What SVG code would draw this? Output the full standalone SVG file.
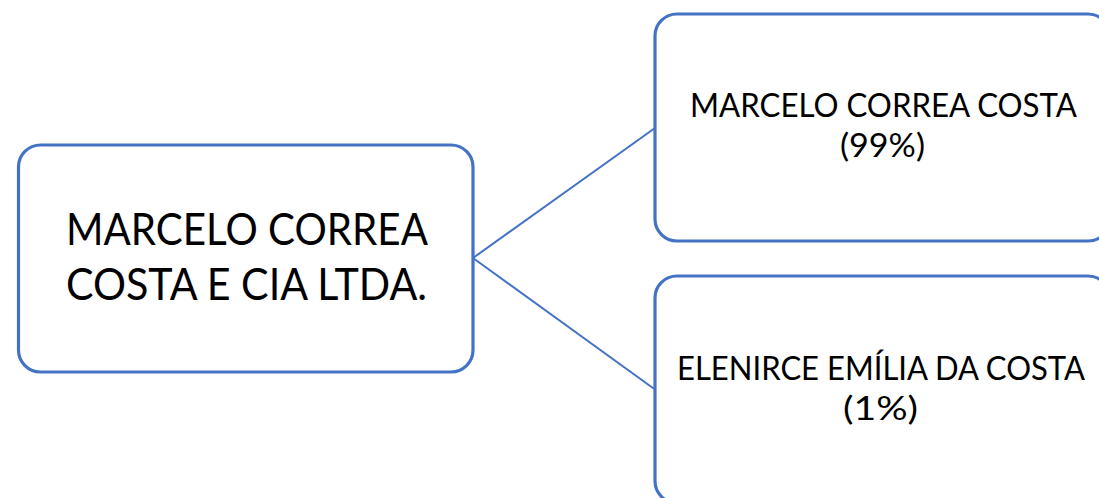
<svg xmlns="http://www.w3.org/2000/svg" width="1099" height="498" viewBox="0 0 1099 498">
<style>
.box{fill:#ffffff;stroke:#4472C4;stroke-width:3.2}
.conn{fill:none;stroke:#4472C4;stroke-width:2}
text{font-family:Lato,"Open Sans","Liberation Sans",sans-serif;fill:#000;text-anchor:middle}
.big{font-size:45px}
.small{font-size:33px}
</style>
<rect width="1099" height="498" fill="#ffffff"/>
<g id="connectors">
<path class="conn" d="M473,258 L655,128"/>
<path class="conn" d="M473,258 L655,389.5"/>
</g>
<g id="node-company">
<rect class="box" x="18.5" y="145" width="454.5" height="227" rx="22"/>
<text class="big" x="247" y="245" textLength="362" lengthAdjust="spacingAndGlyphs">MARCELO CORREA</text>
<text class="big" x="246.5" y="300" textLength="361" lengthAdjust="spacingAndGlyphs">COSTA E CIA LTDA.</text>
</g>
<g id="node-marcelo">
<rect class="box" x="655" y="14" width="455" height="227" rx="22"/>
<text class="small" x="883.5" y="117" textLength="387" lengthAdjust="spacingAndGlyphs">MARCELO CORREA COSTA</text>
<text class="small" x="882.5" y="157" textLength="85" lengthAdjust="spacingAndGlyphs">(99%)</text>
</g>
<g id="node-elenirce">
<rect class="box" x="655" y="276" width="455" height="227" rx="22"/>
<text class="small" x="881" y="380" textLength="408" lengthAdjust="spacingAndGlyphs">ELENIRCE EMÍLIA DA COSTA</text>
<text class="small" x="880.5" y="420" textLength="75" lengthAdjust="spacingAndGlyphs">(1%)</text>
</g>
</svg>
